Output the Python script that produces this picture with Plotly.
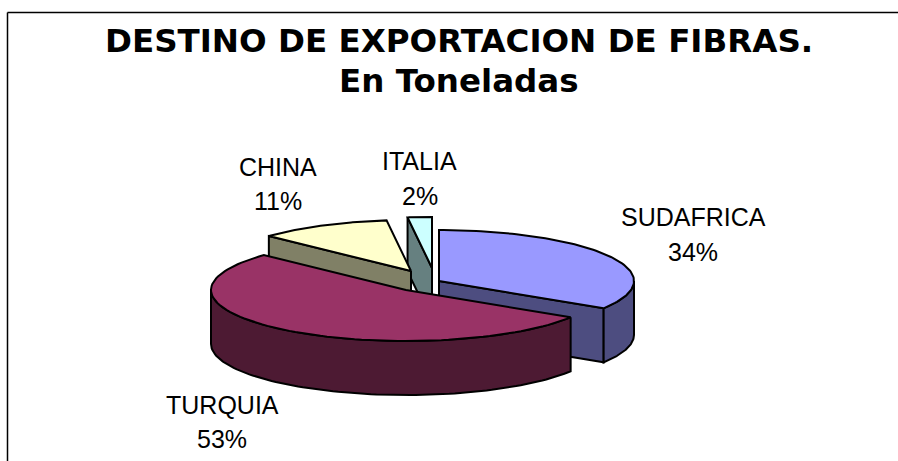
import numpy as np
import plotly.graph_objects as go

labels = ["SUDAFRICA", "TURQUIA", "CHINA", "ITALIA"]
values = [34, 53, 11, 2]
percent_text = ["34%", "53%", "11%", "2%"]
title_lines = ["DESTINO DE EXPORTACION DE FIBRAS.", "En Toneladas"]

top_colors = ["#9999FF", "#993366", "#FFFFCC", "#CCFFFF"]
side_colors = ["#4D4D80", "#4D1A33", "#808066", "#668080"]

W, H = 898, 461
RX, RY, DEPTH = 195, 51, 54
apex_x = [439, 406, 411, 432]
apex_y = [281, 290, 271, 268]
label_x = [693, 222, 278, 419.5]
name_y = [216.5, 405, 166.5, 161]
pct_y = [251.5, 439, 201, 195.5]
title_y = [41, 81]


def arc(cx, cy, a0, a1, n=90):
    t = np.radians(np.linspace(a0, a1, n))
    return cx + RX * np.sin(t), cy - RY * np.cos(t)


total = sum(values)
bounds = np.cumsum([0] + values) / total * 360
fig = go.Figure()


def poly(x, y, color):
    fig.add_trace(go.Scatter(
        x=np.append(x, x[0]), y=np.append(y, y[0]), mode="lines", fill="toself",
        fillcolor=color, line=dict(color="black", width=2, shape="linear"),
        hoverinfo="skip", showlegend=False))


def cut_face(i, ang):
    cx, cy = apex_x[i], apex_y[i]
    rx, ry = arc(cx, cy, ang, ang, 1)
    poly(np.array([cx, rx[0], rx[0], cx]),
         np.array([cy, ry[0], ry[0] + DEPTH, cy + DEPTH]), side_colors[i])


def outer_wall(i, a0, a1):
    x, y = arc(apex_x[i], apex_y[i], a0, a1)
    poly(np.concatenate([x, x[::-1]]), np.concatenate([y, y[::-1] + DEPTH]), side_colors[i])


def top_face(i):
    cx, cy = apex_x[i], apex_y[i]
    x, y = arc(cx, cy, bounds[i], bounds[i + 1])
    poly(np.concatenate([[cx], x]), np.concatenate([[cy], y]), top_colors[i])


# painter's order, back to front
cut_face(3, bounds[3])
top_face(3)
cut_face(2, bounds[2])
top_face(2)
cut_face(0, bounds[1])
outer_wall(0, 90, bounds[1])
top_face(0)
outer_wall(1, bounds[1], 270)
top_face(1)

fig.add_shape(type="line", x0=7.5, x1=7.5, y0=12.5, y1=H, line=dict(color="black", width=1.5))
fig.add_shape(type="line", x0=7.5, x1=W, y0=12.5, y1=12.5, line=dict(color="black", width=1.5))

label_font = dict(family="Liberation Sans", size=25, color="black")
for name, pct, lx, ny, py in zip(labels, percent_text, label_x, name_y, pct_y):
    fig.add_annotation(x=lx, y=ny, text=name, showarrow=False, font=label_font,
                       xanchor="center", yanchor="middle")
    fig.add_annotation(x=lx, y=py, text=pct, showarrow=False, font=label_font,
                       xanchor="center", yanchor="middle")

for line, ty in zip(title_lines, title_y):
    fig.add_annotation(x=459, y=ty, text=f"<b>{line}</b>", showarrow=False,
                       font=dict(family="DejaVu Sans", size=32.5, color="black"),
                       xanchor="center", yanchor="middle")

fig.update_layout(
    width=W, height=H, margin=dict(l=0, r=0, t=0, b=0),
    paper_bgcolor="white", plot_bgcolor="white", showlegend=False,
    xaxis=dict(range=[0, W], visible=False, fixedrange=True),
    yaxis=dict(range=[H, 0], visible=False, fixedrange=True),
)
fig.write_html("out.html", config={"displayModeBar": False},
               post_script="document.body.style.margin='0';document.documentElement.style.overflow='hidden';")
